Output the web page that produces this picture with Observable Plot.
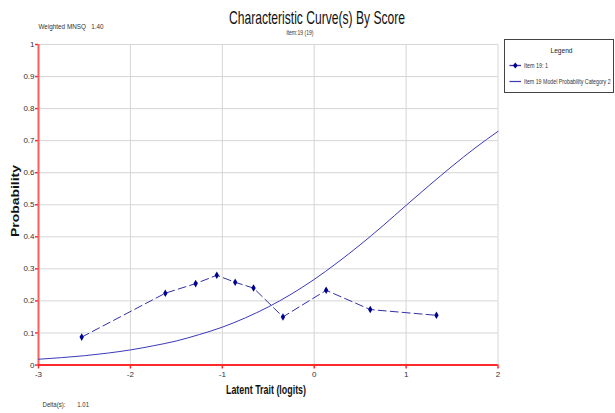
<!DOCTYPE html>
<html><head><meta charset="utf-8">
<script src="https://cdn.jsdelivr.net/npm/d3@7"></script>
<script src="https://cdn.jsdelivr.net/npm/@observablehq/plot@0.6"></script>
<style>
html,body{margin:0;padding:0;background:#fff;}
</style>
</head><body><div id="chart"></div>
<script>
// Observed proportions (Item 19: 1)
const obsX = [-2.53, -1.62, -1.29, -1.06, -0.86, -0.66, -0.34, 0.13, 0.61, 1.33];
const obsY = [0.087, 0.224, 0.254, 0.280, 0.258, 0.240, 0.150, 0.233, 0.173, 0.155];
// Model probability curve (Category 2)
const modelX = [-3, -2.75, -2.5, -2.25, -2, -1.75, -1.5, -1.25, -1, -0.75, -0.5, -0.25, 0, 0.25, 0.5, 0.75, 1, 1.25, 1.5, 1.75, 2];
const modelY = [0.018, 0.023, 0.029, 0.037, 0.047, 0.060, 0.075, 0.095, 0.118, 0.147, 0.181, 0.221, 0.267, 0.319, 0.375, 0.435, 0.498, 0.560, 0.620, 0.677, 0.729];
const xTicks = [-3, -2, -1, 0, 1, 2];
const yTicks = [0, 0.1, 0.2, 0.3, 0.4, 0.5, 0.6, 0.7, 0.8, 0.9, 1];
const xGridTicks = [-2, -1, 0, 1, 2];
const yGridTicks = [0.1, 0.2, 0.3, 0.4, 0.5, 0.6, 0.7, 0.8, 0.9, 1];
const legendLabels = ["Item 19: 1", "Item 19 Model Probability Category 2"];

const obs = obsX.map((x, i) => ({x, y: obsY[i]}));
const model = modelX.map((x, i) => ({x, y: modelY[i]}));

const FONT = "'Liberation Sans Narrow', 'Arial Narrow', 'Liberation Sans', Arial, sans-serif";
const RED = "#ff2a2a";
const BLUE_LINE = "#3a3ab8";
const BLUE_OBS = "#3030a8";
const BLUE_DOT = "#000090";

const plot = Plot.plot({
  width: 615, height: 413,
  marginLeft: 38, marginRight: 117.5, marginTop: 44, marginBottom: 48.5,
  style: {fontFamily: FONT, background: "#fff", fontSize: "8px"},
  x: {domain: [-3, 2]},
  y: {domain: [0, 1]},
  marks: [
    Plot.gridX({ticks: xGridTicks, stroke: "#d6d6d6", strokeOpacity: 1}),
    Plot.gridY({ticks: yGridTicks, stroke: "#d6d6d6", strokeOpacity: 1}),
    Plot.axisX({ticks: xTicks, tickSize: 4, tickPadding: 2, stroke: RED, strokeWidth: 1.5, fill: "#333", fontSize: 8, label: null, tickFormat: d => String(d)}),
    Plot.axisY({ticks: yTicks, tickSize: 3, tickPadding: 1, stroke: RED, strokeWidth: 1.5, fill: "#333", fontSize: 8, label: null, tickFormat: d => String(d)}),
    Plot.ruleX([-3], {stroke: "#ff5c5c", strokeWidth: 2}),
    Plot.ruleY([0], {stroke: RED, strokeWidth: 2.2}),
    Plot.line(model, {x: "x", y: "y", stroke: BLUE_LINE, strokeWidth: 1, curve: "monotone-x"}),
    Plot.line(obs, {x: "x", y: "y", stroke: BLUE_OBS, strokeWidth: 1, strokeDasharray: "8,4"}),
    Plot.dot(obs, {x: "x", y: "y", symbol: "diamond", r: 2.3, fill: BLUE_DOT, stroke: "none"})
  ]
});

document.getElementById("chart").appendChild(plot);

const svg = d3.select(plot);
function txt(x, y, s, opts = {}) {
  const parent = opts.parent || svg;
  const t = parent.append("text")
    .attr("x", x).attr("y", y)
    .attr("font-family", FONT)
    .attr("font-size", opts.size || 8)
    .attr("fill", opts.fill || "#333")
    .attr("text-anchor", opts.anchor || "start")
    .text(s);
  if (opts.weight) t.attr("font-weight", opts.weight);
  if (opts.len) t.attr("textLength", opts.len).attr("lengthAdjust", "spacingAndGlyphs");
  if (opts.rotate) t.attr("transform", `rotate(${opts.rotate},${x},${y})`);
  return t;
}

// Titles and notes
txt(317, 24, "Characteristic Curve(s) By Score", {size: 19, fill: "#111", anchor: "middle", len: 176});
txt(300, 34.5, "item:19 (19)", {size: 7, anchor: "middle", len: 27});
txt(38.5, 29, "Weighted MNSQ\u00a0\u00a0\u00a01.40", {size: 8, len: 65});
txt(42.5, 406.5, "Delta(s):\u00a0\u00a0\u00a0\u00a0\u00a0\u00a0\u00a01.01", {size: 8, len: 46.5});
txt(266, 393.5, "Latent Trait (logits)", {size: 13, weight: "bold", fill: "#111", anchor: "middle", len: 80});
txt(18.5, 201, "Probability", {size: 11.5, weight: "bold", fill: "#111", anchor: "middle", len: 72, rotate: -90});

// Legend box
const lg = svg.append("g");
lg.append("rect").attr("x", 504.5).attr("y", 39.5).attr("width", 109).attr("height", 53)
  .attr("fill", "#fff").attr("stroke", "#444").attr("stroke-width", 1);
txt(561.5, 53, "Legend", {size: 8, fill: "#222", anchor: "middle", len: 22});
lg.append("line").attr("x1", 509.5).attr("x2", 521).attr("y1", 65.5).attr("y2", 65.5)
  .attr("stroke", BLUE_OBS).attr("stroke-width", 1.3);
lg.append("path").attr("d", "M515.3,62.5L517.7,65.5L515.3,68.5L512.9,65.5Z").attr("fill", BLUE_DOT);
txt(524, 68, legendLabels[0], {size: 7, len: 24});
lg.append("line").attr("x1", 509.5).attr("x2", 521).attr("y1", 81.5).attr("y2", 81.5)
  .attr("stroke", BLUE_LINE).attr("stroke-width", 1.2);
const lg2 = lg.append("g").attr("transform", "translate(524,84) scale(0.74,1)");
txt(0, 0, legendLabels[1], {size: 7, len: 117, parent: lg2});
</script>
</body></html>
